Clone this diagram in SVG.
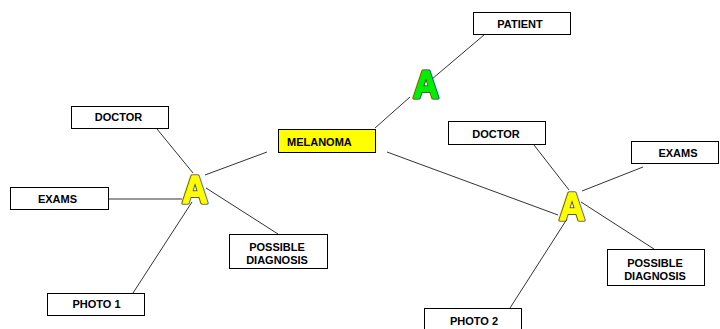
<svg xmlns="http://www.w3.org/2000/svg" width="720" height="329" viewBox="0 0 720 329">
<style>
.box{fill:#fff;stroke:#000;stroke-width:1}
.mel{fill:#ffff00;stroke:#000;stroke-width:1}
.t{font-family:"Liberation Sans",Arial,sans-serif;font-weight:bold;font-size:11px;fill:#000;text-anchor:middle}
.a{font-family:"Liberation Sans",Arial,sans-serif;font-weight:bold;font-size:39px;text-anchor:middle;stroke-linejoin:round}
.ao{fill:#333;stroke:#333;stroke-width:3.2}
.ay{fill:#ffff00;stroke:#ffff00;stroke-width:1.4}
.ag{fill:#00f000;stroke:#00f000;stroke-width:1.4}
.c line{stroke:#333;stroke-width:1}
</style>
<defs>
<text id="glyphA" class="a" x="0" y="0">A</text>
</defs>
<rect width="720" height="329" fill="#fff"/>
<g class="c" id="connectors">
<line x1="484" y1="35" x2="432" y2="79"/>
<line x1="410" y1="97" x2="375" y2="128"/>
<line x1="157" y1="129" x2="193" y2="173"/>
<line x1="205" y1="175" x2="267" y2="152"/>
<line x1="109" y1="199" x2="182" y2="199"/>
<line x1="206" y1="188" x2="278" y2="234"/>
<line x1="133" y1="293" x2="192" y2="202"/>
<line x1="534" y1="145" x2="569" y2="190"/>
<line x1="387" y1="152" x2="558" y2="215"/>
<line x1="582" y1="191" x2="643" y2="167"/>
<line x1="581" y1="202" x2="654" y2="249"/>
<line x1="510" y1="308" x2="567" y2="219"/>
</g>
<g id="patient"><rect class="box" x="473.5" y="12.5" width="97" height="22"/><text class="t" x="520" y="27.5">PATIENT</text></g>
<g id="melanoma"><rect class="mel" x="278.5" y="129.5" width="97" height="23"/><text class="t" x="287" y="145.5" style="text-anchor:start">MELANOMA</text></g>
<g id="a-green" transform="translate(426,97.5) scale(0.92,1)"><use href="#glyphA" class="ao"/><use href="#glyphA" class="ag"/></g>
<g id="a-left" transform="translate(195,202.5) scale(0.92,1)"><use href="#glyphA" class="ao"/><use href="#glyphA" class="ay"/></g>
<g id="a-right" transform="translate(572,219.5) scale(0.92,1)"><use href="#glyphA" class="ao"/><use href="#glyphA" class="ay"/></g>
<g id="doctor1"><rect class="box" x="71.5" y="106.5" width="97" height="22"/><text class="t" x="118.5" y="121">DOCTOR</text></g>
<g id="exams1"><rect class="box" x="10.5" y="187.5" width="98" height="22"/><text class="t" x="57.5" y="202.5">EXAMS</text></g>
<g id="diag1"><rect class="box" x="229.5" y="234.5" width="98" height="34"/><text class="t" x="277" y="251">POSSIBLE</text><text class="t" x="277" y="263.5">DIAGNOSIS</text></g>
<g id="photo1"><rect class="box" x="47.5" y="293.5" width="97" height="22"/><text class="t" x="96.5" y="307.5">PHOTO 1</text></g>
<g id="doctor2"><rect class="box" x="448.5" y="121.5" width="97" height="23"/><text class="t" x="496" y="137.5">DOCTOR</text></g>
<g id="exams2"><rect class="box" x="631.5" y="141.5" width="87" height="22"/><text class="t" x="678" y="156.5">EXAMS</text></g>
<g id="diag2"><rect class="box" x="607.5" y="249.5" width="97" height="36"/><text class="t" x="655" y="266.5">POSSIBLE</text><text class="t" x="655" y="280">DIAGNOSIS</text></g>
<g id="photo2"><rect class="box" x="424.5" y="308.5" width="97" height="22"/><text class="t" x="474" y="324.5">PHOTO 2</text></g>
</svg>
